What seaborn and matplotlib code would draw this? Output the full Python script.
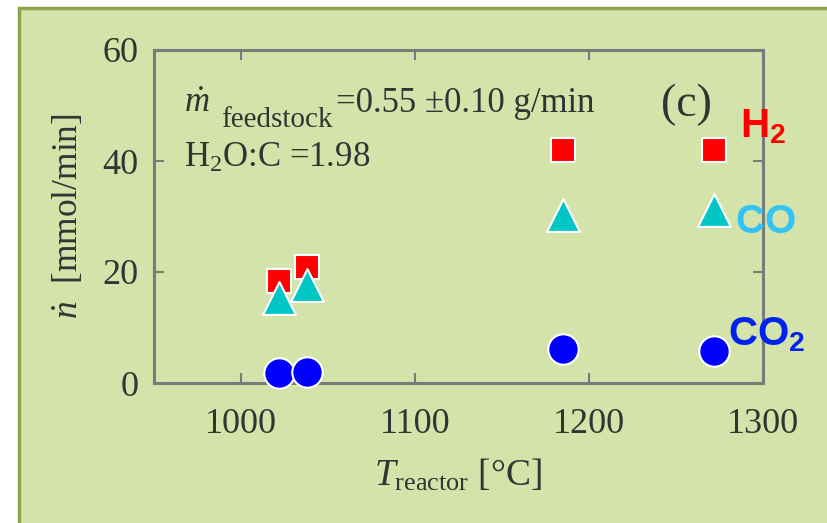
import matplotlib
matplotlib.use("Agg")
import matplotlib.pyplot as plt
import pandas as pd
import seaborn as sns
from matplotlib.patches import Rectangle

# values
temps = [1022, 1038, 1185, 1272]
h2 = [18.4, 20.9, 42.0, 42.0]
co = [15.3, 17.7, 30.3, 31.2]
co2 = [1.8, 2.0, 6.1, 5.8]
gases = ['H2', 'CO', 'CO2']
xticks = [1000, 1100, 1200, 1300]
yticks = [0, 20, 40, 60]

df = pd.DataFrame({
    'T': temps * 3,
    'n': h2 + co + co2,
    'gas': ['H2'] * 4 + ['CO'] * 4 + ['CO2'] * 4,
})

sns.set_theme(style='ticks')
plt.rcParams['font.family'] = ['Liberation Serif', 'DejaVu Serif']
plt.rcParams['mathtext.fontset'] = 'custom'
plt.rcParams['mathtext.rm'] = 'Liberation Serif'
plt.rcParams['mathtext.it'] = 'Liberation Serif:italic'
plt.rcParams['mathtext.bf'] = 'Liberation Sans:bold'

bg = '#d3e3a9'
txt = '#333333'
spine = '#7a7a7a'

fig = plt.figure(figsize=(8.27, 5.23), dpi=100, facecolor='white')
fig.patches.append(Rectangle((19 / 827, -0.02), 1.0, 1 - 8 / 523 + 0.02,
                             transform=fig.transFigure, facecolor=bg,
                             edgecolor='#8da64e', linewidth=2.5, zorder=-10))

ax = fig.add_axes([154 / 827, 1 - 383 / 523, (763 - 154) / 827, (383 - 50) / 523])
ax.set_facecolor('none')

palette = {'H2': '#ff0000', 'CO': '#00c6c6', 'CO2': '#0000ff'}
markers = {'H2': 's', 'CO': '^', 'CO2': 'o'}
sizes = {'H2': 300, 'CO': 560, 'CO2': 480}
for g in gases:
    sub = df[df.gas == g]
    sns.scatterplot(data=sub, x='T', y='n', color=palette[g], marker=markers[g],
                    s=sizes[g], edgecolor='white', linewidth=1.5, ax=ax,
                    legend=False, zorder=3, clip_on=False)

ax.set_xlim(950, 1300)
ax.set_ylim(0, 60)
ax.set_xticks(xticks)
ax.set_yticks(yticks)
ax.tick_params(direction='in', length=7, width=1.5, color=spine,
               top=True, right=True, labelsize=26, labelcolor=txt)
ax.tick_params(axis='x', pad=18)
ax.tick_params(axis='y', pad=11)
for s in ax.spines.values():
    s.set_color(spine)
    s.set_linewidth(2.2)

ax.set_xlabel(r'$T_{\mathrm{reactor}}$ [°C]', fontsize=27, color=txt, labelpad=12)
ax.set_ylabel(r'$\dot{n}$  [mmol/min]', fontsize=25.5, color=txt, labelpad=12)

# annotation block, pieces placed separately like the original
ax.text(967, 48.8, r'$\dot{m}$', fontsize=25, color=txt, va='baseline')
ax.text(988.5, 46.1, 'feedstock', fontsize=21, color=txt, va='baseline')
ax.text(1054.5, 48.8, '=0.55 ±0.10 g/min', fontsize=25, color=txt, va='baseline')
ax.text(967, 38.9, r'H$_2$O:C =1.98', fontsize=25, color=txt, va='baseline')
ax.text(1256, 50.2, '(c)', fontsize=33, color=txt, va='center', ha='center')

lab = dict(fontsize=29, va='baseline', ha='left', family=['Liberation Sans'])
fig.text(740 / 827, 1 - 137 / 523, r'$\mathbf{H_2}$', color='#ff0000', **lab)
fig.text(735 / 827, 1 - 233 / 523, r'$\mathbf{CO}$', color='#33c3f5', **lab)
fig.text(728 / 827, 1 - 345 / 523, r'$\mathbf{CO_2}$', color='#0022ee', **lab)

fig.savefig('out.png', dpi=100, facecolor='white')
